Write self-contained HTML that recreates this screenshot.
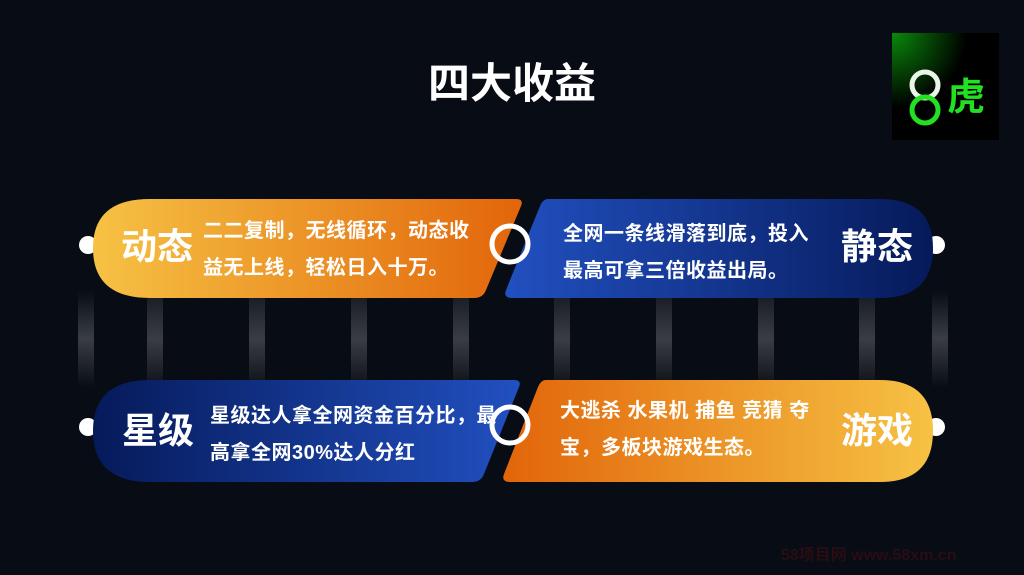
<!DOCTYPE html>
<html><head><meta charset="utf-8"><style>
html,body{margin:0;padding:0;background:#070c15;}
body{width:1024px;height:575px;overflow:hidden;position:relative;font-family:"Liberation Sans","Noto Sans CJK SC",sans-serif;}
svg{position:absolute;left:0;top:0}
.t{position:absolute;color:#fff;font-weight:bold;white-space:nowrap}
.h{font-size:36px;line-height:44px}
.b{font-size:20px;line-height:37px;letter-spacing:0.5px}
</style></head><body>
<svg width="1024" height="575" viewBox="0 0 1024 575">
<defs>
<linearGradient id="bar" x1="0" y1="0" x2="0" y2="1">
<stop offset="0" stop-color="#1a1e26"/><stop offset="0.5" stop-color="#3a3d44"/><stop offset="1" stop-color="#14171e"/></linearGradient>
<linearGradient id="bar2" x1="0" y1="0" x2="0" y2="1">
<stop offset="0" stop-color="#070c15"/><stop offset="0.5" stop-color="#3a3d44"/><stop offset="1" stop-color="#070c15"/></linearGradient>
<linearGradient id="or1" x1="0" y1="0" x2="1" y2="0"><stop offset="0" stop-color="#f6c244"/><stop offset="1" stop-color="#e2650a"/></linearGradient>
<linearGradient id="or2" x1="0" y1="0" x2="1" y2="0"><stop offset="0" stop-color="#e2650a"/><stop offset="1" stop-color="#f6c244"/></linearGradient>
<linearGradient id="bl1" x1="0" y1="0" x2="1" y2="0"><stop offset="0" stop-color="#2150c0"/><stop offset="1" stop-color="#061a5a"/></linearGradient>
<linearGradient id="bl2" x1="0" y1="0" x2="1" y2="0"><stop offset="0" stop-color="#061a5a"/><stop offset="1" stop-color="#2150c0"/></linearGradient>
<radialGradient id="gr" cx="0" cy="0" r="0.7"><stop offset="0" stop-color="#0a8a0a"/><stop offset="1" stop-color="#000"/></radialGradient>
</defs>
<rect x="78" y="290" width="16" height="98" fill="url(#bar2)"/>
<rect x="932" y="290" width="16" height="98" fill="url(#bar2)"/>
<g fill="url(#bar)">
<rect x="147" y="298" width="16" height="82"/><rect x="249" y="298" width="16" height="82"/>
<rect x="351" y="298" width="16" height="82"/><rect x="453" y="298" width="16" height="82"/>
<rect x="554" y="298" width="16" height="82"/><rect x="656" y="298" width="16" height="82"/>
<rect x="758" y="298" width="16" height="82"/><rect x="859" y="298" width="16" height="82"/>
</g>
<g fill="#fff">
<circle cx="88" cy="245" r="9"/><circle cx="88" cy="427" r="9"/>
<circle cx="936" cy="245" r="9"/><circle cx="936" cy="427" r="9"/>
</g>
<path d="M150 199 H516 Q524 199 521 206 L486 290 Q483 298 474 298 H150 Q93 298 93 248 Q93 199 150 199 Z" fill="url(#or1)"/>
<path d="M548 199 H880 Q933 199 933 248 Q933 298 880 298 H512 Q503 298 506 290 L540 206 Q543 199 548 199 Z" fill="url(#bl1)"/>
<path d="M150 380 H514 Q522 380 519 387 L484 474 Q481 482 472 482 H150 Q93 482 93 431 Q93 380 150 380 Z" fill="url(#bl2)"/>
<path d="M546 380 H880 Q933 380 933 431 Q933 482 880 482 H510 Q501 482 504 474 L538 387 Q541 380 546 380 Z" fill="url(#or2)"/>
<circle cx="510" cy="244" r="18" fill="none" stroke="#fff" stroke-width="5"/>
<circle cx="510" cy="425" r="18" fill="none" stroke="#fff" stroke-width="5"/>
<rect x="892" y="33" width="107" height="107" fill="url(#gr)"/>
<circle cx="925" cy="85" r="13" fill="none" stroke="#e8f5e8" stroke-width="5"/>
<circle cx="925" cy="110" r="13" fill="none" stroke="#22e022" stroke-width="5"/>
<text x="966" y="110" font-size="38" font-weight="bold" fill="#22e022" text-anchor="middle" font-family="Liberation Sans, Noto Sans CJK SC, sans-serif">虎</text>
</svg>
<div class="t" style="left:428px;top:60px;font-size:42px;line-height:48px;">四大收益</div>
<div class="t h" style="left:121px;top:225px;">动态</div>
<div class="t b" style="left:203px;top:213px;">二二复制，无线循环，动态收<br>益无上线，轻松日入十万。</div>
<div class="t h" style="left:841px;top:225px;">静态</div>
<div class="t b" style="left:563px;top:216px;">全网一条线滑落到底，投入<br>最高可拿三倍收益出局。</div>
<div class="t h" style="left:122px;top:409px;">星级</div>
<div class="t b" style="left:210px;top:398px;">星级达人拿全网资金百分比，最<br>高拿全网30%达人分红</div>
<div class="t h" style="left:841px;top:409px;">游戏</div>
<div class="t b" style="left:560px;top:393px;">大逃杀 水果机 捕鱼 竞猜 夺<br>宝，多板块游戏生态。</div>
<div class="t" style="left:781px;top:541px;font-size:16px;color:#2a0c13;">58项目网 www.58xm.cn</div>
</body></html>
